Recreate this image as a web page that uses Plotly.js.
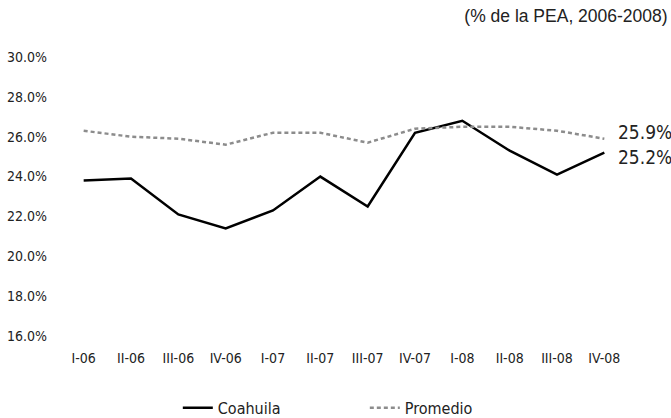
<!DOCTYPE html>
<html>
<head>
<meta charset="utf-8">
<script src="https://cdn.plot.ly/plotly-3.0.1.min.js"></script>
<style>html,body{margin:0;padding:0;background:#fff;}#chart{width:671px;height:418px;}</style>
</head>
<body>
<div id="chart"></div>
<script>
var categories = ["I-06","II-06","III-06","IV-06","I-07","II-07","III-07","IV-07","I-08","II-08","III-08","IV-08"];
var coahuila = [23.8, 23.9, 22.1, 21.4, 22.3, 24.0, 22.5, 26.2, 26.8, 25.3, 24.1, 25.2];
var promedio = [26.3, 26.0, 25.9, 25.6, 26.2, 26.2, 25.7, 26.4, 26.5, 26.5, 26.3, 25.9];
var yTicks = [16, 18, 20, 22, 24, 26, 28, 30];
var titleText = "(% de la PEA, 2006-2008)";

var narrow = "Liberation Sans Narrow, Arial Narrow, DejaVu Sans Condensed, sans-serif";

var traces = [
  {x: categories, y: coahuila, name: "Coahuila", type: "scatter", mode: "lines",
   line: {color: "#000000", width: 2.5}},
  {x: categories, y: promedio, name: "Promedio", type: "scatter", mode: "lines",
   line: {color: "#8c8c8c", width: 2.5, dash: "4px,3px"}}
];

var last = categories.length - 1;
var layout = {
  width: 671, height: 418,
  margin: {l: 60, r: 43, t: 57, b: 82},
  paper_bgcolor: "#ffffff", plot_bgcolor: "#ffffff",
  showlegend: true,
  title: {text: titleText, x: 0.995, xanchor: "right", xref: "container", y: 0.962, yanchor: "middle", yref: "container",
          font: {family: "Liberation Sans, Arial, sans-serif", size: 17.5, color: "#222"}},
  xaxis: {type: "category", range: [-0.5, 11.5], showgrid: false, zeroline: false, showline: false,
          ticks: "", ticklabelstandoff: 12, tickfont: {family: narrow, size: 14, color: "#222"}},
  yaxis: {range: [16, 30], tickvals: yTicks, ticktext: yTicks.map(function(v){return v.toFixed(1)+"%";}),
          showgrid: false, zeroline: false, showline: false, ticks: "", ticklabelstandoff: 12,
          tickfont: {family: narrow, size: 14, color: "#222"}},
  legend: {orientation: "h", xref: "container", x: 0.265, xanchor: "left", yref: "container", y: 0.024, yanchor: "middle",
           entrywidth: 142, entrywidthmode: "pixels",
           font: {family: narrow, size: 16, color: "#222"}},
  annotations: [
    {x: categories[last], y: promedio[last], xref: "x", yref: "y", text: promedio[last].toFixed(1) + "%",
     showarrow: false, xanchor: "left", yanchor: "middle", xshift: 12, yshift: 7,
     font: {family: narrow, size: 19, color: "#222"}},
    {x: categories[last], y: coahuila[last], xref: "x", yref: "y", text: coahuila[last].toFixed(1) + "%",
     showarrow: false, xanchor: "left", yanchor: "middle", xshift: 12, yshift: -4,
     font: {family: narrow, size: 19, color: "#222"}}
  ]
};

Plotly.newPlot("chart", traces, layout, {displayModeBar: false, staticPlot: true});
</script>
</body>
</html>
